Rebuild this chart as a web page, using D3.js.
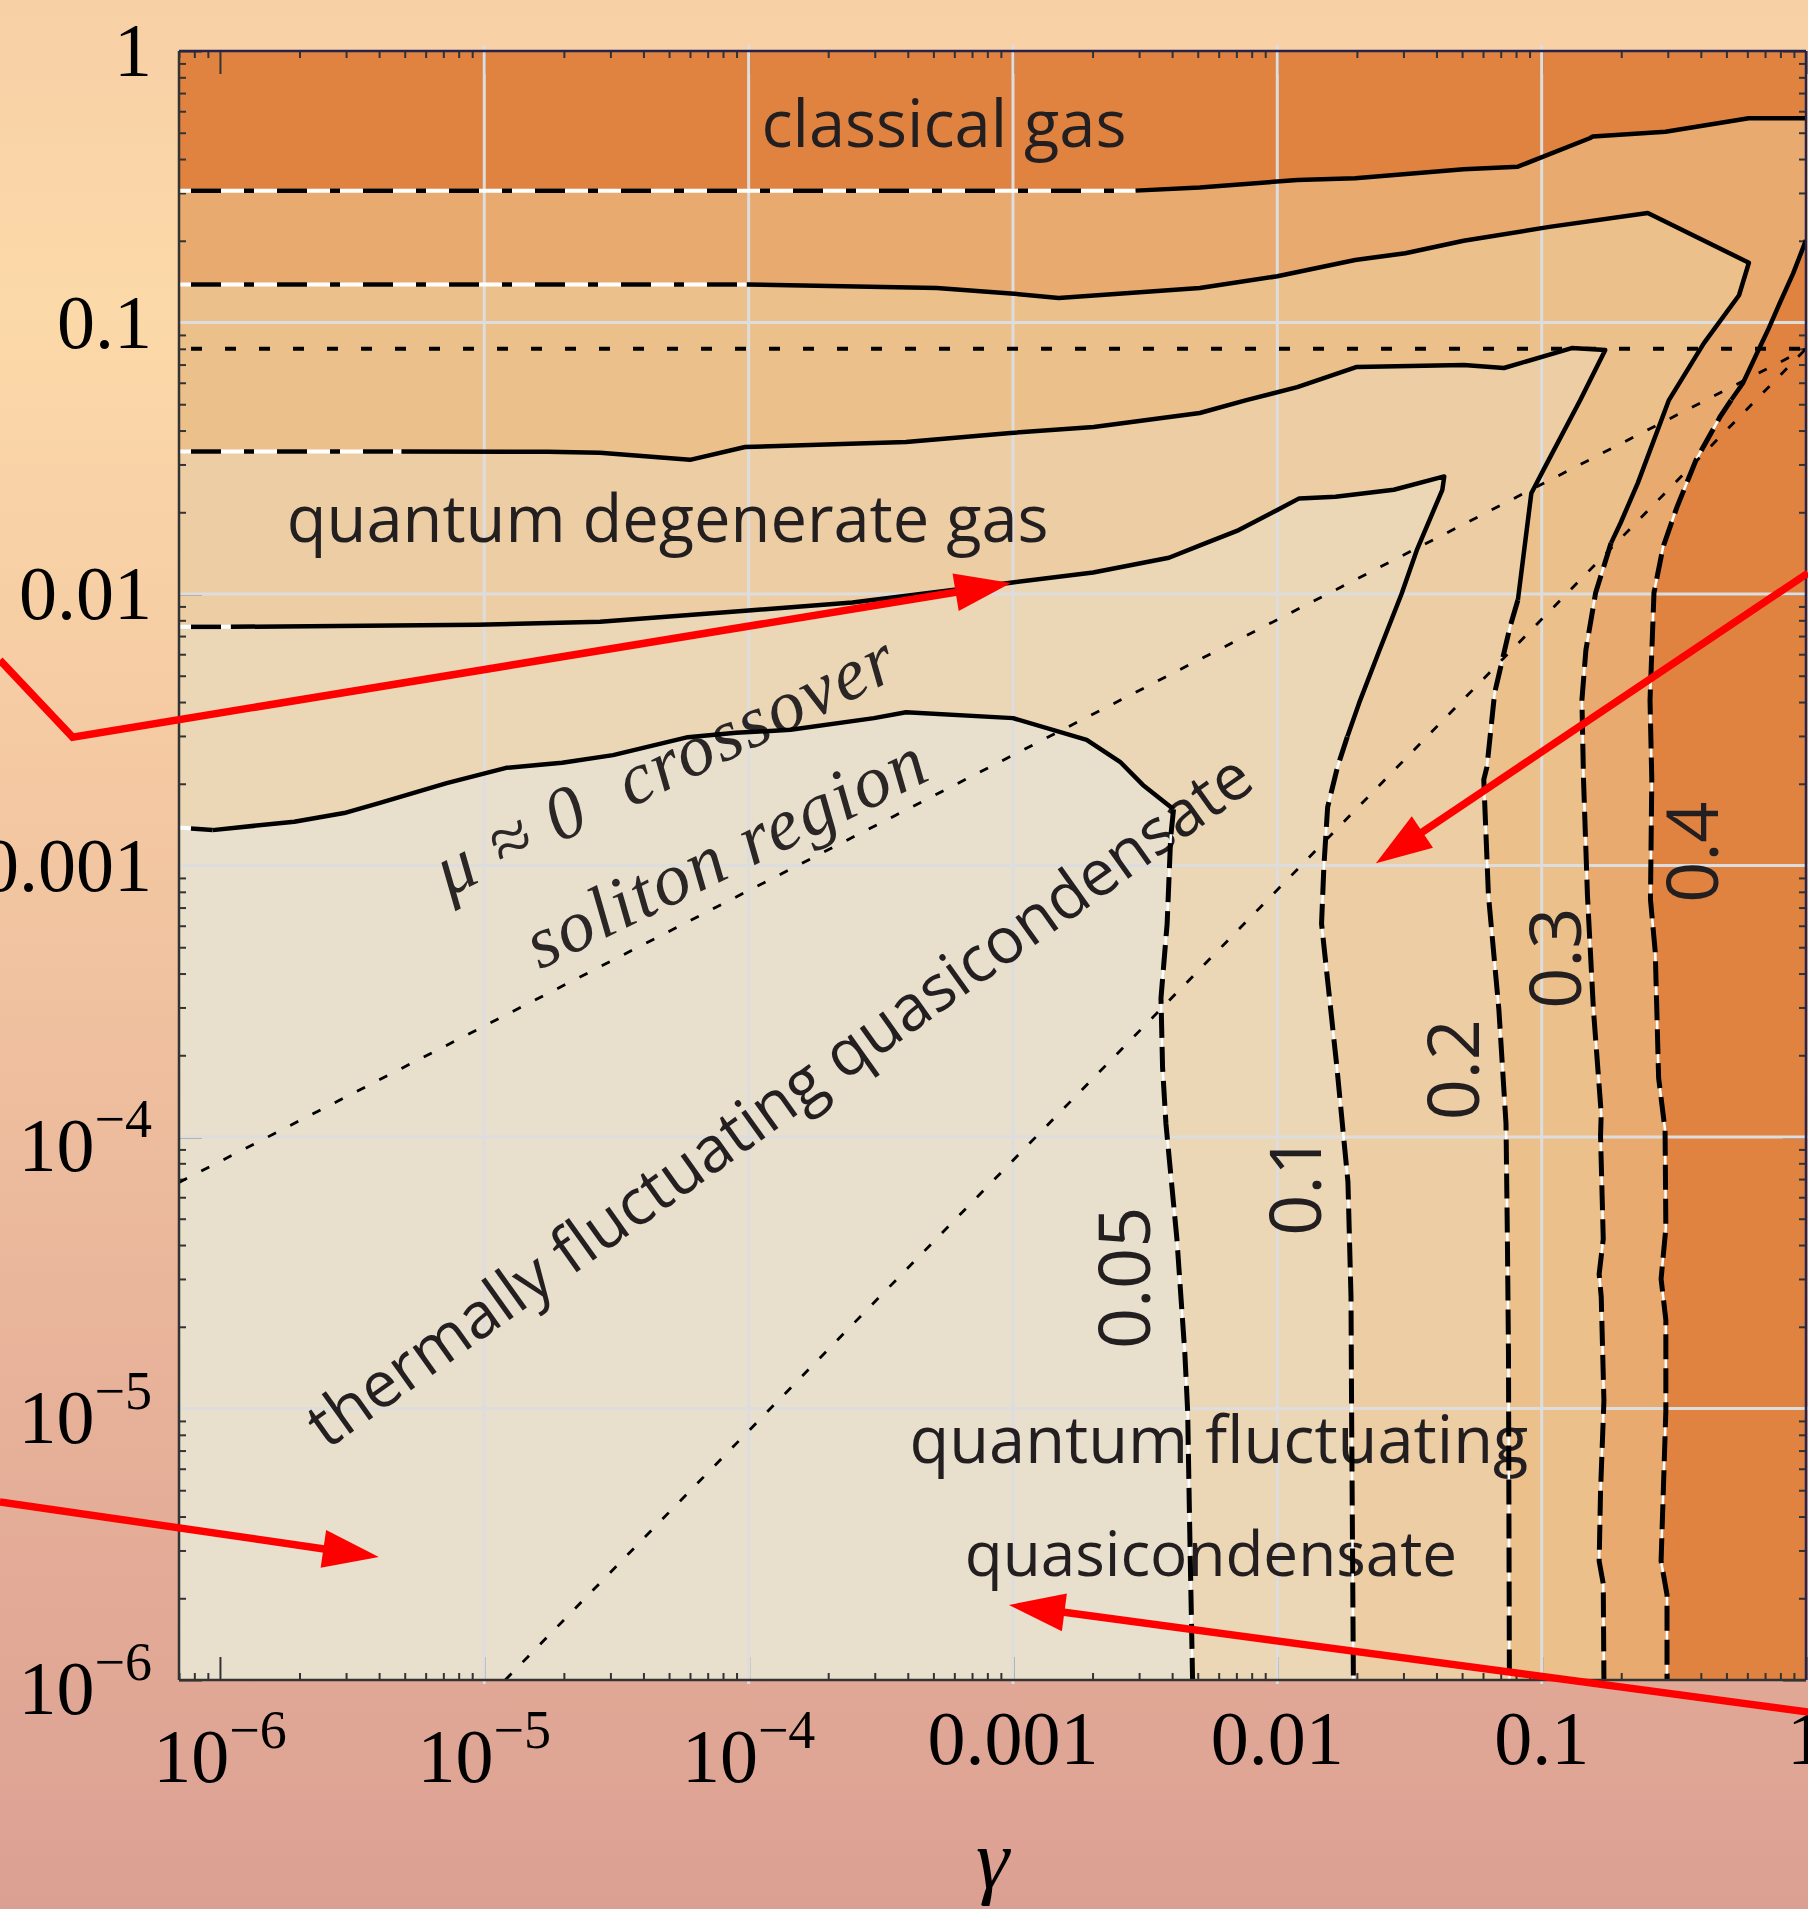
<!DOCTYPE html>
<html>
<head>
<meta charset="utf-8">
<title>Phase diagram</title>
<script src="https://d3js.org/d3.v7.min.js"></script>
<style>
  html, body { margin: 0; padding: 0; }
  body { width: 1808px; height: 1909px; overflow: hidden; }
  svg { display: block; }
  .sans { font-family: "Open Sans", "Noto Sans", sans-serif; fill: #231F20; }
  .serif { font-family: "Liberation Serif", "Times New Roman", serif; fill: #000; }
  .mathit { font-family: "Liberation Serif", "Times New Roman", serif; font-style: italic; fill: #2A2626; white-space: pre; }
</style>
</head>
<body>
<div id="chart"></div>
<script>

// axis ranges (gamma on x, tau on y)
var gammaMin = 7e-7, gammaMax = 1;
var tauMin = 1e-6, tauMax = 1;

var tickValues = [1e-6, 1e-5, 1e-4, 1e-3, 1e-2, 1e-1, 1];
var tickLabels = [["10", "\u22126"], ["10", "\u22125"], ["10", "\u22124"], ["0.001", ""], ["0.01", ""], ["0.1", ""], ["1", ""]];
var gridValues = [1e-5, 1e-4, 1e-3, 1e-2, 1e-1];

// contour levels and region colours (below 0.05 ... above 0.4)
var levels = ["0.05", "0.1", "0.2", "0.3", "0.4"];
var fillColors = ["#E9DFCD", "#EBD6B5", "#ECCDA4", "#ECC08A", "#E8AA6E", "#E08340"];

// contour lines [gamma, tau]: flat = analytic (dash-dot), curve = numeric (solid), vert = analytic (dashed)
var c05Flat = [[7e-7, 1.38e-3], [9.38e-7, 1.35e-3]];
var c05Curve = [[9.38e-7, 1.35e-3], [1.91e-6, 1.45e-3], [2.95e-6, 1.56e-3], [4.03e-6, 1.70e-3], [7.21e-6, 2.01e-3],
  [1.21e-5, 2.29e-3], [1.97e-5, 2.39e-3], [3.07e-5, 2.55e-3], [5.89e-5, 2.97e-3], [8.95e-5, 3.08e-3],
  [1.44e-4, 3.16e-3], [2.98e-4, 3.49e-3], [3.94e-4, 3.67e-3], [1.0e-3, 3.49e-3], [1.9e-3, 2.90e-3],
  [2.54e-3, 2.41e-3], [3.1e-3, 1.98e-3], [4.05e-3, 1.61e-3]];
var c05Vert = [[4.05e-3, 1.61e-3], [3.95e-3, 1.27e-3], [3.83e-3, 6.11e-4], [3.63e-3, 3.25e-4], [3.68e-3, 1.81e-4],
  [3.79e-3, 1.12e-4], [4.17e-3, 4.21e-5], [4.47e-3, 1.59e-5], [4.58e-3, 9.75e-6], [4.66e-3, 3.69e-6], [4.78e-3, 1e-6]];

var c10Flat = [[7e-7, 7.57e-3], [1.10e-6, 7.57e-3]];
var c10Curve = [[1.10e-6, 7.57e-3], [9.38e-6, 7.70e-3], [2.74e-5, 7.9e-3], [1.0e-4, 8.7e-3], [2.47e-4, 9.31e-3],
  [9.8e-4, 0.0110], [2.01e-3, 0.0120], [3.89e-3, 0.0136], [5.1e-3, 0.0151], [7.15e-3, 0.0172], [0.0100, 0.0204],
  [0.0121, 0.0225], [0.0166, 0.0228], [0.0276, 0.0242], [0.0428, 0.0271], [0.0421, 0.0242], [0.0337, 0.0145],
  [0.0295, 0.0100], [0.0241, 6.05e-3], [0.0204, 3.97e-3], [0.0184, 2.98e-3]];
var c10Vert = [[0.0184, 2.98e-3], [0.0169, 2.31e-3], [0.0155, 1.64e-3], [0.0150, 9.87e-4], [0.0147, 6.11e-4],
  [0.0168, 1.81e-4], [0.0185, 6.84e-5], [0.0190, 2.58e-5], [0.0191, 9.75e-6], [0.0194, 1e-6]];

var c20Flat = [[7e-7, 0.0335], [4.86e-6, 0.0335]];
var c20Curve = [[4.86e-6, 0.0335], [1.74e-5, 0.0334], [2.74e-5, 0.0331], [6.0e-5, 0.0312], [9.7e-5, 0.0348],
  [3.94e-4, 0.0363], [9.8e-4, 0.0392], [2.02e-3, 0.0412], [5.09e-3, 0.0464], [7.64e-3, 0.0518], [0.0119, 0.0578],
  [0.0200, 0.0686], [0.0507, 0.0697], [0.0720, 0.0680], [0.130, 0.0805], [0.174, 0.0792], [0.140, 0.0518],
  [0.103, 0.0294], [0.0914, 0.0235], [0.0813, 9.5e-3]];
var c20Vert = [[0.0813, 9.5e-3], [0.0759, 7.56e-3], [0.0664, 4.32e-3], [0.0621, 2.31e-3], [0.0604, 2.07e-3],
  [0.0629, 7.78e-4], [0.0689, 2.94e-4], [0.0733, 1.12e-4], [0.0742, 4.21e-5], [0.0749, 1.59e-5], [0.0755, 1e-6]];

var c30Flat = [[7e-7, 0.138], [9.84e-5, 0.138]];
var c30Curve = [[9.84e-5, 0.138], [5.15e-4, 0.134], [9.8e-4, 0.128], [1.49e-3, 0.123], [5.09e-3, 0.134],
  [0.0100, 0.148], [0.0197, 0.170], [0.0305, 0.180], [0.0507, 0.200], [0.107, 0.225], [0.252, 0.253],
  [0.608, 0.166], [0.558, 0.126], [0.411, 0.0840], [0.303, 0.0518], [0.231, 0.0256], [0.199, 0.0183], [0.183, 0.0154]];
var c30Vert = [[0.183, 0.0154], [0.160, 0.0101], [0.147, 6.22e-3], [0.142, 4.07e-3], [0.144, 2.07e-3],
  [0.149, 7.78e-4], [0.157, 2.94e-4], [0.168, 1.22e-4], [0.167, 1.01e-4], [0.171, 4.21e-5], [0.165, 3.13e-5],
  [0.168, 2.58e-5], [0.172, 1.07e-5], [0.167, 4.93e-6], [0.165, 2.74e-6], [0.171, 2.26e-6], [0.172, 1e-6]];

var c40Flat = [[7e-7, 0.306], [2.91e-3, 0.306]];
var c40Curve = [[2.91e-3, 0.306], [5.09e-3, 0.314], [0.0119, 0.335], [0.0197, 0.340], [0.0507, 0.367],
  [0.0813, 0.375], [0.152, 0.477], [0.156, 0.484], [0.294, 0.504], [0.607, 0.565], [1, 0.565]];
var c40Right = [[1, 0.201], [0.895, 0.152], [0.796, 0.118], [0.718, 0.0938], [0.661, 0.0792], [0.577, 0.0597], [0.521, 0.0518]];
var c40Vert = [[0.521, 0.0518], [0.473, 0.0449], [0.384, 0.0312], [0.325, 0.0209], [0.288, 0.0149],
  [0.266, 0.0101], [0.257, 4.07e-3], [0.261, 2.07e-3], [0.258, 7.5e-4], [0.269, 4.8e-4], [0.277, 1.65e-4],
  [0.293, 1.06e-4], [0.295, 4.62e-5], [0.283, 3.0e-5], [0.295, 2.12e-5], [0.295, 9.8e-6], [0.283, 2.74e-6],
  [0.298, 2.06e-6], [0.298, 1e-6]];

// crossover lines
var degeneracyLine = [[7e-7, 0.08], [1, 0.08]];
var crossoverLine = [[7e-7, 6.8e-5], [1, 0.08]];
var solitonLine = [[1.2e-5, 1e-6], [1, 0.08]];

// label anchors [gamma, tau]
var levelAt = [[2.63e-3, 3.03e-5], [0.01166, 6.65e-5], [0.0462, 1.77e-4], [0.1122, 4.56e-4], [0.371, 1.12e-3]];
var regionNames = ["classical gas", "quantum degenerate gas", "thermally fluctuating quasicondensate",
  "quantum fluctuating", "quasicondensate"];
var regionAt = [[5.48e-4, 0.443], [4.94e-5, 0.01555], [1.46e-4, 1.17e-4], [6.01e-3, 6.30e-6], [5.61e-3, 2.42e-6]];
var regimeNames = ["\u03BC \u2248 0\u00A0 crossover", "soliton region"];
var regimeAt = [[5.3e-5, 1.96e-3], [9.02e-5, 9.31e-4]];

// red pointers to the neighbouring panels
var arrow1 = [[1.47e-7, 5.71e-3], [2.77e-7, 2.97e-3], [9.82e-4, 0.01097]];
var arrow2 = [[1.47e-7, 4.53e-6], [3.99e-6, 2.84e-6]];
var arrow3 = [[1.018, 0.01195], [0.0236, 1.02e-3]];
var arrow4 = [[1.018, 7.62e-7], [9.65e-4, 1.89e-6]];


var W = 1808, H = 1909;
var plotL = 179, plotR = 1806, plotT = 51, plotB = 1680;

var x = d3.scaleLog().domain([gammaMin, gammaMax]).range([plotL, plotR]);
var y = d3.scaleLog().domain([tauMin, tauMax]).range([plotB, plotT]);
var line = d3.line().x(function (d) { return x(d[0]); }).y(function (d) { return y(d[1]); });

var svg = d3.select("#chart").append("svg").attr("width", W).attr("height", H);
var defs = svg.append("defs");

var grad = defs.append("linearGradient").attr("id", "bg")
  .attr("x1", 0).attr("y1", 0).attr("x2", 0).attr("y2", 1);
[[0, "#F7D0A5"], [0.16, "#FCD9A9"], [0.5, "#F1C3A0"], [0.78, "#E5AE98"], [1, "#DCA093"]].forEach(function (s) {
  grad.append("stop").attr("offset", s[0]).attr("stop-color", s[1]);
});
svg.append("rect").attr("width", W).attr("height", H).attr("fill", "url(#bg)");

defs.append("clipPath").attr("id", "plotClip").append("rect")
  .attr("x", plotL).attr("y", plotT).attr("width", plotR - plotL).attr("height", plotB - plotT);

// filled regions
var contours = [
  { flat: c05Flat, curve: c05Curve, right: [], vert: c05Vert },
  { flat: c10Flat, curve: c10Curve, right: [], vert: c10Vert },
  { flat: c20Flat, curve: c20Curve, right: [], vert: c20Vert },
  { flat: c30Flat, curve: c30Curve, right: [], vert: c30Vert },
  { flat: c40Flat, curve: c40Curve, right: c40Right, vert: c40Vert }
];

var plot = svg.append("g").attr("clip-path", "url(#plotClip)");
plot.append("rect").attr("x", plotL).attr("y", plotT)
  .attr("width", plotR - plotL).attr("height", plotB - plotT).attr("fill", fillColors[5]);

for (var i = contours.length - 1; i >= 0; i--) {
  var c = contours[i];
  var poly = c.flat.concat(c.curve, c.right, c.vert, [[gammaMin, tauMin]]);
  plot.append("path").attr("d", line(poly) + "Z").attr("fill", fillColors[i]);
}

// ticks (inside)
function isMajor(v) { var l = Math.log10(v); return Math.abs(l - Math.round(l)) < 1e-6; }
function minor(v) { return !isMajor(v); }
var xAll = x.ticks(), yAll = y.ticks();
var tickG = svg.append("g");
function drawTicks(axis, transform, vals, size) {
  var g = tickG.append("g").attr("transform", transform)
    .call(axis.tickValues(vals).tickSizeInner(size).tickSizeOuter(0).tickFormat(""));
  g.select(".domain").remove();
  g.selectAll(".tick line").attr("stroke", "#333").attr("stroke-width", 2);
}
drawTicks(d3.axisBottom(x), "translate(0," + plotB + ")", xAll.filter(minor), -7);
drawTicks(d3.axisBottom(x), "translate(0," + plotB + ")", xAll.filter(isMajor), -23);
drawTicks(d3.axisTop(x), "translate(0," + plotT + ")", xAll.filter(minor), -7);
drawTicks(d3.axisTop(x), "translate(0," + plotT + ")", xAll.filter(isMajor), -23);
drawTicks(d3.axisLeft(y), "translate(" + plotL + ",0)", yAll.filter(minor), -7);
drawTicks(d3.axisLeft(y), "translate(" + plotL + ",0)", yAll.filter(isMajor), -23);
drawTicks(d3.axisRight(y), "translate(" + plotR + ",0)", yAll.filter(minor), -7);
drawTicks(d3.axisRight(y), "translate(" + plotR + ",0)", yAll.filter(isMajor), -23);

// grid
var grid = svg.append("g").attr("stroke", "#DDDDDD").attr("stroke-width", 3);
grid.selectAll(".gx").data(gridValues).enter().append("line")
  .attr("x1", function (d) { return x(d); }).attr("x2", function (d) { return x(d); })
  .attr("y1", plotT - 6).attr("y2", plotB + 4);
grid.selectAll(".gy").data(gridValues).enter().append("line")
  .attr("y1", function (d) { return y(d); }).attr("y2", function (d) { return y(d); })
  .attr("x1", plotL).attr("x2", W);

// region texts
var texts = svg.append("g");
var regionRot = [0, 0, -35.5, 0, 0];
var regionSize = [65, 65, 64, 65, 62];
regionNames.forEach(function (name, k) {
  var px = x(regionAt[k][0]), py = y(regionAt[k][1]);
  texts.append("text").attr("class", "sans")
    .attr("transform", "translate(" + px + "," + py + ") rotate(" + regionRot[k] + ")")
    .attr("text-anchor", "middle").style("font-size", regionSize[k] + "px").text(name);
});
regimeNames.forEach(function (name, k) {
  var px = x(regimeAt[k][0]), py = y(regimeAt[k][1]);
  texts.append("text").attr("class", "mathit")
    .attr("transform", "translate(" + px + "," + py + ") rotate(-26)")
    .attr("text-anchor", "middle").style("font-size", "74px").style("letter-spacing", "2px").text(name);
});
levels.forEach(function (lab, k) {
  var px = x(levelAt[k][0]), py = y(levelAt[k][1]);
  texts.append("text").attr("class", "sans")
    .attr("transform", "translate(" + px + "," + py + ") rotate(-90)")
    .attr("text-anchor", "middle").attr("y", 26).style("font-size", "72px").text(lab);
});

// contour lines
var lines = svg.append("g").attr("clip-path", "url(#plotClip)").attr("fill", "none");
contours.forEach(function (c) {
  lines.append("path").attr("d", line(c.flat)).attr("stroke", "#fff").attr("stroke-width", 4);
  lines.append("path").attr("d", line(c.flat)).attr("stroke", "#000").attr("stroke-width", 4.5)
    .attr("stroke-dasharray", "30,23,10,23").attr("stroke-dashoffset", 74);
  lines.append("path").attr("d", line(c.curve)).attr("stroke", "#000").attr("stroke-width", 4.5)
    .attr("stroke-linejoin", "round");
  if (c.right.length) {
    lines.append("path").attr("d", line(c.right)).attr("stroke", "#000").attr("stroke-width", 4.5)
      .attr("stroke-linejoin", "round");
  }
  lines.append("path").attr("d", line(c.vert)).attr("stroke", "#fff").attr("stroke-width", 2.5);
  lines.append("path").attr("d", line(c.vert)).attr("stroke", "#000").attr("stroke-width", 5)
    .attr("stroke-dasharray", "25,9");
});

lines.append("path").attr("d", line(degeneracyLine)).attr("stroke", "#000").attr("stroke-width", 4)
  .attr("stroke-dasharray", "11,23").attr("stroke-dashoffset", -12);
[crossoverLine, solitonLine].forEach(function (l) {
  lines.append("path").attr("d", line(l)).attr("stroke", "#000").attr("stroke-width", 2.8)
    .attr("stroke-dasharray", "9,16");
});

// frame
var frame = svg.append("g").attr("fill", "none").attr("stroke-width", 2.5);
frame.append("line").attr("x1", plotL).attr("x2", plotL).attr("y1", plotT).attr("y2", plotB).attr("stroke", "#333");
frame.append("line").attr("x1", plotL).attr("x2", plotR).attr("y1", plotB).attr("y2", plotB).attr("stroke", "#333");
frame.append("line").attr("x1", plotL).attr("x2", plotR).attr("y1", plotT).attr("y2", plotT).attr("stroke", "#25224C");
frame.append("line").attr("x1", plotR).attr("x2", plotR).attr("y1", plotT).attr("y2", plotB).attr("stroke", "#25224C");

// tick labels
var labels = svg.append("g");
function tickLabel(px, py, parts, anchor) {
  var t = labels.append("text").attr("class", "serif").attr("x", px).attr("y", py)
    .attr("text-anchor", anchor).style("font-size", "76px");
  t.append("tspan").text(parts[0]);
  if (parts[1]) t.append("tspan").attr("dy", -34).style("font-size", "54px").text(parts[1]);
}
tickValues.forEach(function (v, k) {
  var sup = tickLabels[k][1] !== "";
  tickLabel(x(v), plotB + (sup ? 102 : 84), tickLabels[k], "middle");
  tickLabel(152, y(v) + (sup ? 34 : 25), tickLabels[k], "end");
});
labels.append("text").attr("class", "serif").attr("x", (plotL + plotR) / 2).attr("y", 1888)
  .attr("text-anchor", "middle").style("font-size", "84px").style("font-style", "italic").text("\u03B3");

// red arrows
var arrows = svg.append("g");
function drawArrow(pts) {
  var p = pts.map(function (d) { return [x(d[0]), y(d[1])]; });
  var tip = p[p.length - 1], prev = p[p.length - 2];
  var dx = tip[0] - prev[0], dy = tip[1] - prev[1], len = Math.hypot(dx, dy);
  var ux = dx / len, uy = dy / len, headLen = 56, hw = 19;
  var base = [tip[0] - ux * headLen, tip[1] - uy * headLen];
  var shaft = p.slice(0, -1).concat([[base[0] + ux * 6, base[1] + uy * 6]]);
  arrows.append("path").attr("d", d3.line()(shaft)).attr("fill", "none")
    .attr("stroke", "#FF0000").attr("stroke-width", 7.5).attr("stroke-linejoin", "miter");
  arrows.append("path").attr("fill", "#FF0000")
    .attr("d", "M" + tip[0] + "," + tip[1] +
      "L" + (base[0] - uy * hw) + "," + (base[1] + ux * hw) +
      "L" + (base[0] + uy * hw) + "," + (base[1] - ux * hw) + "Z");
}
[arrow1, arrow2, arrow3, arrow4].forEach(drawArrow);

</script>
</body>
</html>
